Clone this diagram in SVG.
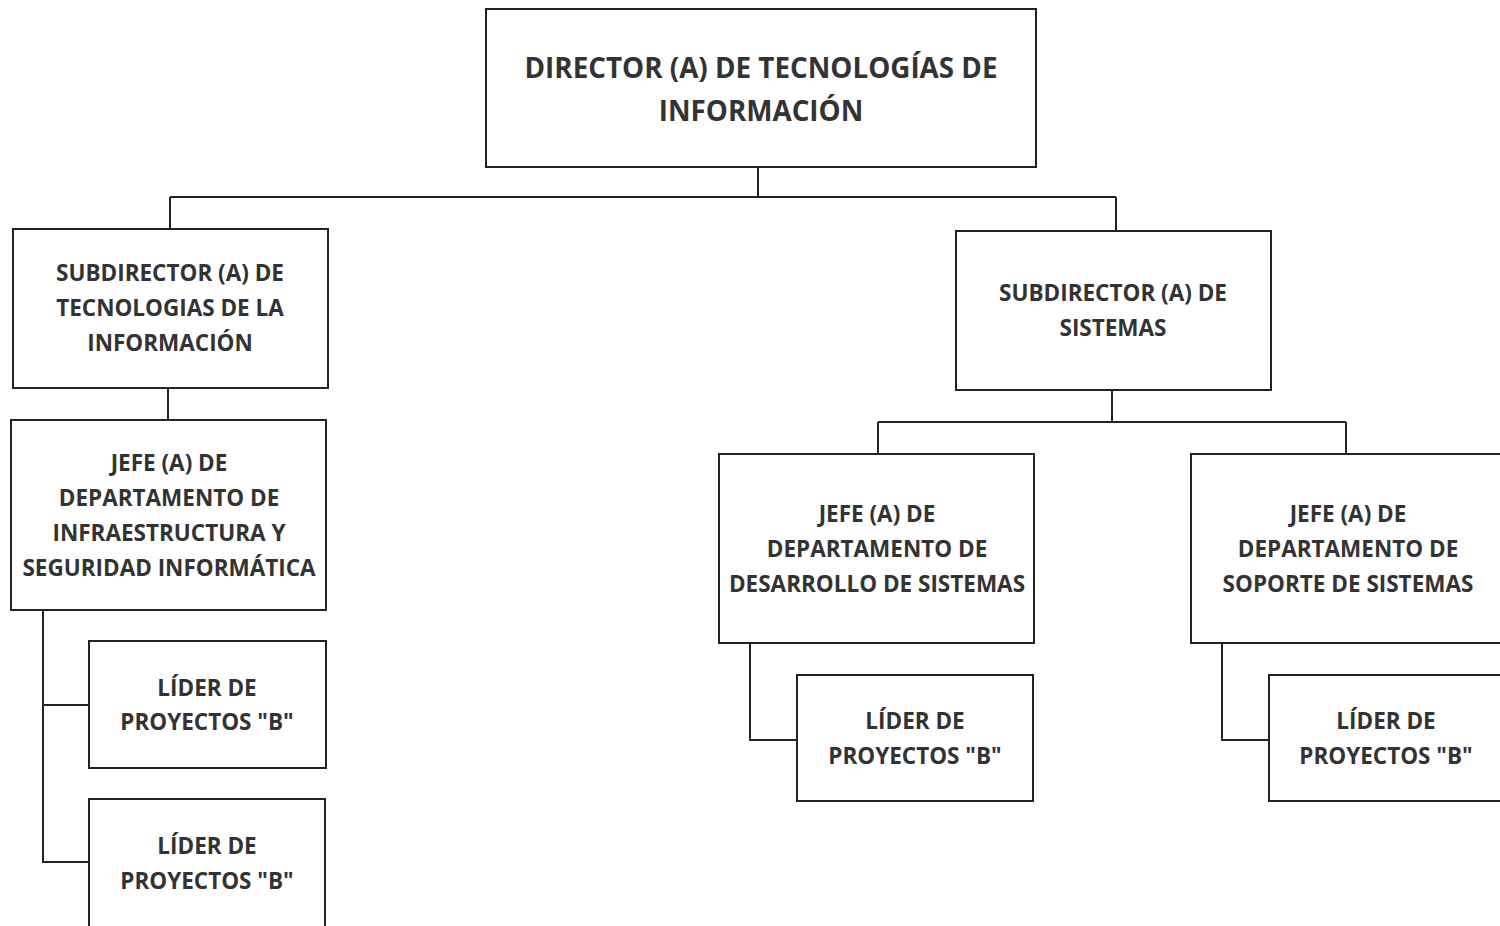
<svg xmlns="http://www.w3.org/2000/svg" width="1500" height="926" viewBox="0 0 1500 926">
<style>
.box{fill:#fff;stroke:#222;stroke-width:2}
.t{font-family:"Open Sans","Liberation Sans",sans-serif;font-weight:700;fill:#333;text-anchor:middle;dominant-baseline:central;font-size:22.5px}
.big{font-size:27.8px}
.c{fill:none;stroke:#222;stroke-width:2}
</style>
<rect width="1500" height="926" fill="#fff"/>
<g id="connectors">
<path class="c" d="M758 167V197M170 197H1116M170 197V229M1116 197V231"/>
<path class="c" d="M168 388V420"/>
<path class="c" d="M43 610V862H89M43 705H89"/>
<path class="c" d="M1112 390V422M878 422H1346M878 422V454M1346 422V454"/>
<path class="c" d="M750 643V740H797"/>
<path class="c" d="M1222 643V740H1269"/>
</g>
<g id="director">
<rect class="box" x="486" y="9" width="550" height="158"/>
<text class="t big" x="761" y="67">DIRECTOR (A) DE TECNOLOGÍAS DE</text>
<text class="t big" x="761" y="110">INFORMACIÓN</text>
</g>
<g id="subdir-ti">
<rect class="box" x="13" y="229" width="315" height="159"/>
<text class="t" x="170" y="272">SUBDIRECTOR (A) DE</text>
<text class="t" x="170" y="307">TECNOLOGIAS DE LA</text>
<text class="t" x="170" y="342">INFORMACIÓN</text>
</g>
<g id="jefe-infra">
<rect class="box" x="11" y="420" width="315" height="190"/>
<text class="t" x="169" y="462">JEFE (A) DE</text>
<text class="t" x="169" y="497">DEPARTAMENTO DE</text>
<text class="t" x="169" y="532">INFRAESTRUCTURA Y</text>
<text class="t" x="169" y="567">SEGURIDAD INFORMÁTICA</text>
</g>
<g id="lider-1">
<rect class="box" x="89" y="641" width="237" height="127"/>
<text class="t" x="207" y="687">LÍDER DE</text>
<text class="t" x="207" y="721">PROYECTOS "B"</text>
</g>
<g id="lider-2">
<rect class="box" x="89" y="799" width="236" height="140"/>
<text class="t" x="207" y="845">LÍDER DE</text>
<text class="t" x="207" y="880">PROYECTOS "B"</text>
</g>
<g id="subdir-sis">
<rect class="box" x="956" y="231" width="315" height="159"/>
<text class="t" x="1113" y="292">SUBDIRECTOR (A) DE</text>
<text class="t" x="1113" y="327">SISTEMAS</text>
</g>
<g id="jefe-desarrollo">
<rect class="box" x="719" y="454" width="315" height="189"/>
<text class="t" x="877" y="513">JEFE (A) DE</text>
<text class="t" x="877" y="548">DEPARTAMENTO DE</text>
<text class="t" x="877" y="583">DESARROLLO DE SISTEMAS</text>
</g>
<g id="jefe-soporte">
<rect class="box" x="1191" y="454" width="320" height="189"/>
<text class="t" x="1348" y="513">JEFE (A) DE</text>
<text class="t" x="1348" y="548">DEPARTAMENTO DE</text>
<text class="t" x="1348" y="583">SOPORTE DE SISTEMAS</text>
</g>
<g id="lider-3">
<rect class="box" x="797" y="675" width="236" height="126"/>
<text class="t" x="915" y="720">LÍDER DE</text>
<text class="t" x="915" y="755">PROYECTOS "B"</text>
</g>
<g id="lider-4">
<rect class="box" x="1269" y="675" width="240" height="126"/>
<text class="t" x="1386" y="720">LÍDER DE</text>
<text class="t" x="1386" y="755">PROYECTOS "B"</text>
</g>
</svg>
